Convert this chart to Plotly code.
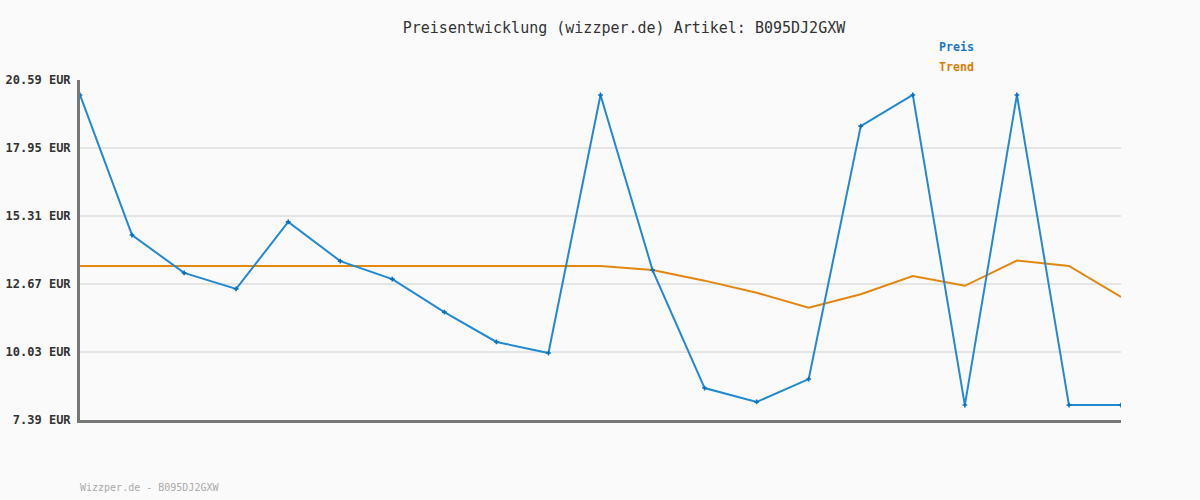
import plotly.graph_objects as go

x_idx = list(range(21))
preis = [20.01, 14.57, 13.10, 12.48, 15.08, 13.56, 12.86, 11.58, 10.42, 9.99,
         20.01, 13.21, 8.63, 8.09, 8.98, 18.80, 20.01, 7.97, 20.01, 7.97, 7.97]
trend = [13.37, 13.37, 13.37, 13.37, 13.37, 13.37, 13.37, 13.37, 13.37, 13.37,
         13.37, 13.21, 12.80, 12.33, 11.75, 12.27, 12.98, 12.60, 13.58, 13.37, 12.17]
y_ticks = [7.39, 10.03, 12.67, 15.31, 17.95, 20.59]
y_labels = [f"{v:.2f} EUR" for v in y_ticks]

MONO = "DejaVu Sans Mono"

fig = go.Figure()
fig.add_trace(go.Scatter(x=x_idx, y=trend, mode="lines", name="Trend",
                         line=dict(color="#e4870f", width=2)))
fig.add_trace(go.Scatter(x=x_idx, y=preis, mode="lines+markers", name="Preis",
                         line=dict(color="#2289d3", width=2),
                         marker=dict(symbol="cross", size=4, color="#0a6fc0")))

fig.update_layout(
    width=1200, height=500,
    margin=dict(l=80, r=79, t=80, b=80, autoexpand=False),
    paper_bgcolor="#fafafa", plot_bgcolor="#fafafa",
    showlegend=False,
    title=dict(text="Preisentwicklung (wizzper.de) Artikel: B095DJ2GXW",
               x=0.52, xanchor="center", y=0.944, yanchor="middle",
               font=dict(family=MONO, size=15, color="#333333")),
    font=dict(family=MONO),
)
fig.update_xaxes(range=[0, 20], showgrid=False, showticklabels=False, zeroline=False,
                 showline=True, linecolor="#777777", linewidth=3, ticks="", automargin=False)
fig.update_yaxes(range=[7.39, 20.59], tickvals=y_ticks, ticktext=y_labels,
                 showgrid=True, gridcolor="#e5e5e5", gridwidth=2, zeroline=False,
                 showline=True, linecolor="#777777", linewidth=3, ticks="",
                 ticklabelstandoff=4, automargin=False,
                 tickfont=dict(family=MONO, size=12, color="#333333", weight="bold"))

fig.add_annotation(text="<b>Preis</b>", xref="paper", yref="paper", x=(937-80)/1041, y=(420-47)/340,
                   xanchor="left", yanchor="middle", showarrow=False,
                   font=dict(family=MONO, size=11.6, color="#1a78c2"))
fig.add_annotation(text="<b>Trend</b>", xref="paper", yref="paper", x=(937-80)/1041, y=(420-67)/340,
                   xanchor="left", yanchor="middle", showarrow=False,
                   font=dict(family=MONO, size=11.6, color="#e07b00"))
fig.add_annotation(text="Wizzper.de - B095DJ2GXW", xref="paper", yref="paper", x=-2/1041, y=(420-487)/340,
                   xanchor="left", yanchor="middle", showarrow=False,
                   font=dict(family=MONO, size=10, color="#aaaaaa"))

fig.write_html("out.html", config={"displayModeBar": False},
               post_script="document.body.style.margin='0';document.body.style.background='#fafafa';")
